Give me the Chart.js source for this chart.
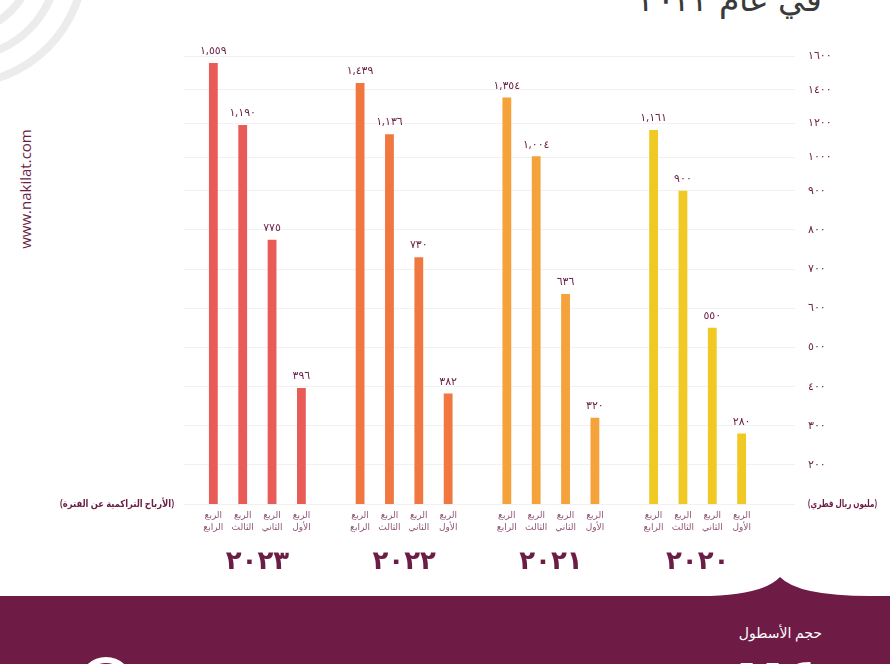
<!DOCTYPE html>
<html lang="ar">
<head>
<meta charset="utf-8">
<script src="https://cdn.jsdelivr.net/npm/chart.js@4.4.1/dist/chart.umd.min.js"></script>
<style>
  html, body { margin: 0; padding: 0; background: #fff; }
  #wrap { position: relative; width: 890px; height: 664px; overflow: hidden; background: #fff;
          font-family: 'Noto Sans', 'DejaVu Sans', sans-serif; }
  #deco { position: absolute; left: 0; top: 0; }
  #c { position: absolute; left: 0; top: 0; }
  .title { position: absolute; right: 68px; top: -18px; font-size: 33px; line-height: 33px; font-weight: 300;
           color: #3a3a3a; white-space: nowrap; }
  .url { position: absolute; left: 25px; top: 189px; transform: translate(-50%, -50%) rotate(-90deg);
         font-family: 'Open Sans', sans-serif; font-size: 15px; color: #6b1d45; white-space: nowrap; }
  .fleet { position: absolute; right: 68px; top: 623px; font-size: 14px; color: #fff; white-space: nowrap; }
  .fleetnum { position: absolute; right: 70px; top: 646px; font-size: 66px; line-height: 66px; font-weight: bold;
              color: #fff; white-space: nowrap; }
</style>
</head>
<body>
<div id="wrap">
  <svg id="deco" width="890" height="664" viewBox="0 0 890 664">
    <g fill="none" stroke="#ececec" stroke-width="8">
      <circle cx="-40" cy="-40" r="124"/>
      <circle cx="-40" cy="-40" r="98"/>
      <circle cx="-40" cy="-40" r="72"/>
    </g>
    <path d="M0 596 L700 596 Q 762 596 780 577 Q 798 596 870 596 L890 596 L890 664 L0 664 Z" fill="#6e1b45"/>
    <circle cx="106" cy="684" r="24" fill="none" stroke="#fff" stroke-width="6"/>
  </svg>
  <div class="title" dir="rtl">في عام ٢٠٢٢</div>
  <div class="url">www.nakilat.com</div>
  <div class="fleet" dir="rtl">حجم الأسطول</div>
  <div class="fleetnum" dir="rtl">٧٤</div>
  <canvas id="c" width="890" height="664"></canvas>
</div>
<script>
// ---- data ----
const years = ['٢٠٢٣', '٢٠٢٢', '٢٠٢١', '٢٠٢٠'];
const quarterNames = ['الربع الرابع', 'الربع الثالث', 'الربع الثاني', 'الربع الأول'];
const q4Values = [1559, 1439, 1354, 1161];
const q3Values = [1190, 1136, 1004, 900];
const q2Values = [775, 730, 636, 550];
const q1Values = [396, 382, 320, 280];
const yTicks = [100, 200, 300, 400, 500, 600, 700, 800, 900, 1000, 1200, 1400, 1600];
const leftUnit = '(الأرباح التراكمية عن الفترة)';
const rightUnit = '(مليون ريال قطري)';

// ---- styles ----
const yearColors = ['#e95b56', '#f0773f', '#f5a23a', '#f0c924'];
const MAROON = '#6b1d45';
const FONT = "'Noto Sans', 'DejaVu Sans', sans-serif";

const AR_DIGITS = '٠١٢٣٤٥٦٧٨٩';
const toAr = s => String(s).replace(/\d/g, d => AR_DIGITS[d]);
const fmtValue = v => toAr(v >= 1000 ? Math.floor(v / 1000) + ',' + String(v % 1000).padStart(3, '0') : v);

// Axis whose tick intervals are laid out step by step (the infographic's uneven axis)
class SteppedScale extends Chart.LinearScale {
  static id = 'stepped';
  static defaults = {};
  buildTicks() { return yTicks.map(v => ({ value: v })); }
  _weights() {
    const b = this.options.breakValue ?? Infinity;
    const r = this.options.upperStepRatio ?? 1;
    const w = [];
    for (let i = 0; i < yTicks.length - 1; i++) w.push(yTicks[i + 1] > b ? r : 1);
    return w;
  }
  _toDecimal(v) {
    const w = this._weights();
    const total = w.reduce((a, b) => a + b, 0);
    if (v <= yTicks[0]) return 0;
    let acc = 0;
    for (let i = 0; i < w.length; i++) {
      const a = yTicks[i], b = yTicks[i + 1];
      if (v <= b || i === w.length - 1) return (acc + (v - a) / (b - a) * w[i]) / total;
      acc += w[i];
    }
    return 1;
  }
  getPixelForValue(v) {
    if (v === null || v === undefined || isNaN(v)) return NaN;
    return this.getPixelForDecimal(this._toDecimal(v));
  }
  getValueForPixel(p) {
    const d = this.getDecimalForPixel(p);
    const w = this._weights();
    const total = w.reduce((a, b) => a + b, 0);
    let acc = 0;
    for (let i = 0; i < w.length; i++) {
      const next = acc + w[i] / total;
      if (d <= next || i === w.length - 1) return yTicks[i] + (d - acc) / (w[i] / total) * (yTicks[i + 1] - yTicks[i]);
      acc = next;
    }
    return yTicks[yTicks.length - 1];
  }
}
Chart.register(SteppedScale);

const textPlugin = {
  id: 'barTexts',
  afterDatasetsDraw(chart) {
    const { ctx, chartArea } = chart;
    ctx.save();
    chart.data.datasets.forEach((ds, di) => {
      const meta = chart.getDatasetMeta(di);
      const parts = ds.label.split(' ');
      meta.data.forEach((bar, i) => {
        ctx.fillStyle = MAROON;
        ctx.font = '11px ' + FONT;
        ctx.textAlign = 'center';
        ctx.textBaseline = 'middle';
        ctx.fillText(fmtValue(ds.data[i]), bar.x, bar.y - 12);
        ctx.fillStyle = '#8e5476';
        ctx.font = '9px ' + FONT;
        ctx.fillText(parts[0], bar.x, chartArea.bottom + 11);
        ctx.fillText(parts[1], bar.x, chartArea.bottom + 23);
      });
    });
    ctx.fillStyle = MAROON;
    ctx.font = 'bold 10px ' + FONT;
    ctx.textBaseline = 'middle';
    ctx.textAlign = 'right';
    ctx.fillText(leftUnit, chartArea.left - 10, chartArea.bottom, 114);
    ctx.textAlign = 'left';
    ctx.fillText(rightUnit, chartArea.right + 37, chartArea.bottom, 69);
    ctx.restore();
  }
};

new Chart(document.getElementById('c'), {
  type: 'bar',
  data: {
    labels: years,
    datasets: [
      { label: quarterNames[0], data: q4Values, backgroundColor: yearColors },
      { label: quarterNames[1], data: q3Values, backgroundColor: yearColors },
      { label: quarterNames[2], data: q2Values, backgroundColor: yearColors },
      { label: quarterNames[3], data: q1Values, backgroundColor: yearColors }
    ]
  },
  options: {
    responsive: false,
    animation: false,
    devicePixelRatio: 1,
    layout: { padding: { left: 184, right: 0, top: 56, bottom: 60 } },
    datasets: { bar: { categoryPercentage: 0.8, barPercentage: 0.3 } },
    plugins: { legend: { display: false }, tooltip: { enabled: false } },
    scales: {
      x: {
        grid: { display: false, drawTicks: false },
        border: { display: false },
        ticks: { color: MAROON, padding: 42, font: { family: FONT, size: 26, weight: 'bold' } },
        afterFit: s => { s.height = 100; }
      },
      y: {
        type: 'stepped',
        position: 'right',
        min: 100,
        max: 1600,
        breakValue: 900,
        upperStepRatio: 0.86,
        grid: { color: '#f1f1f1', lineWidth: 1, tickLength: 24, tickColor: '#f1f1f1' },
        border: { display: false },
        ticks: {
          padding: 13,
          color: MAROON,
          font: { family: FONT, size: 11 },
          callback: v => (v === yTicks[0] ? '' : toAr(v))
        },
        afterFit: s => { s.width = 119; }
      }
    }
  },
  plugins: [textPlugin]
});
</script>
</body>
</html>
